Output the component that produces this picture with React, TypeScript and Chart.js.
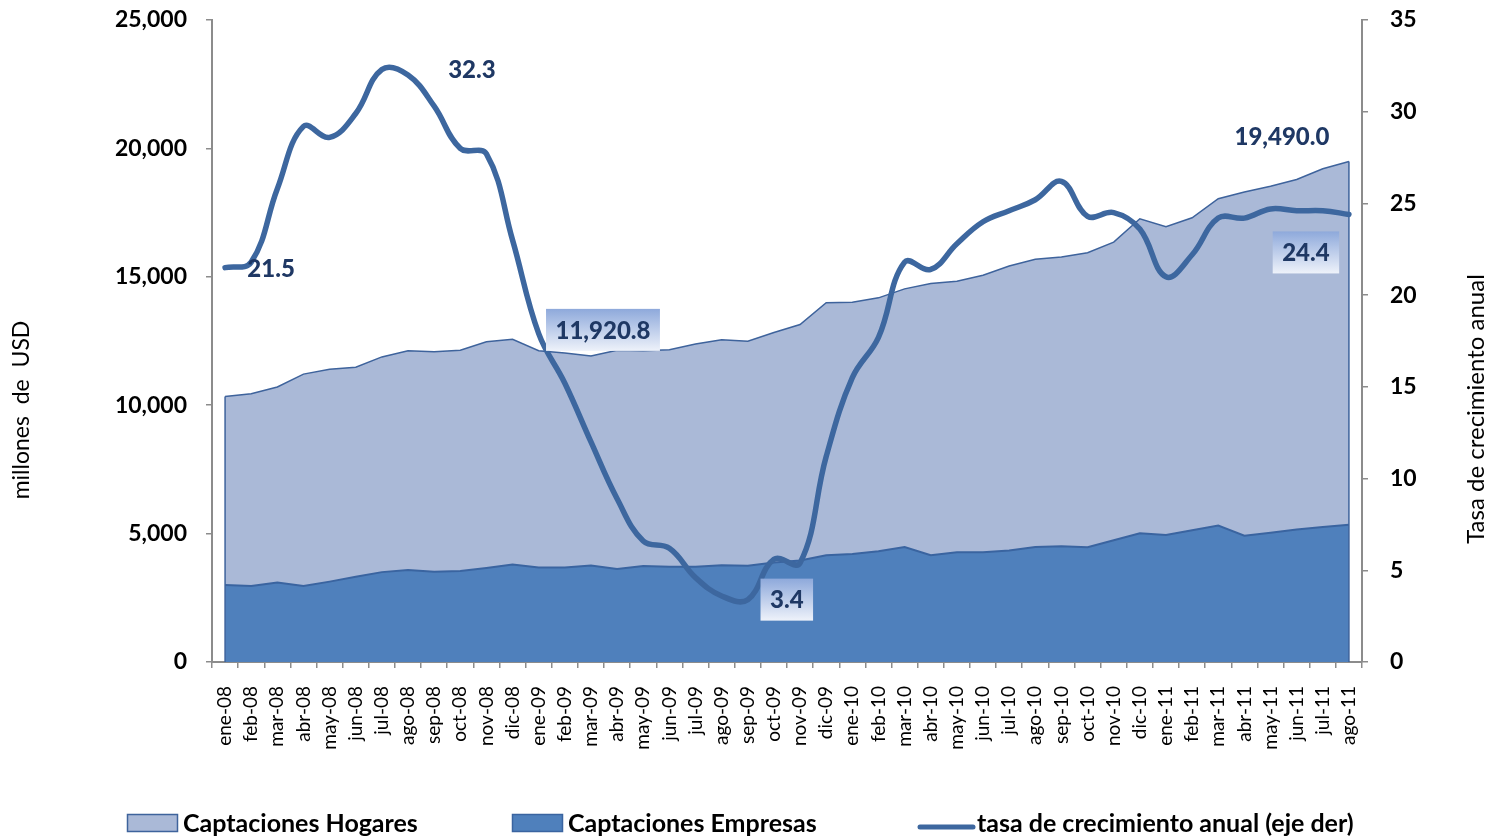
import React, { useEffect, useRef } from 'react';
import { Chart, registerables } from 'chart.js';

Chart.register(...registerables);

const months = [
  'ene-08', 'feb-08', 'mar-08', 'abr-08', 'may-08', 'jun-08', 'jul-08', 'ago-08', 'sep-08', 'oct-08', 'nov-08', 'dic-08',
  'ene-09', 'feb-09', 'mar-09', 'abr-09', 'may-09', 'jun-09', 'jul-09', 'ago-09', 'sep-09', 'oct-09', 'nov-09', 'dic-09',
  'ene-10', 'feb-10', 'mar-10', 'abr-10', 'may-10', 'jun-10', 'jul-10', 'ago-10', 'sep-10', 'oct-10', 'nov-10', 'dic-10',
  'ene-11', 'feb-11', 'mar-11', 'abr-11', 'may-11', 'jun-11', 'jul-11', 'ago-11',
];

// millones de USD
const empresas = [
  3000, 2960, 3100, 2960, 3130, 3320, 3500, 3580, 3510, 3540, 3660, 3800,
  3680, 3680, 3760, 3620, 3740, 3710, 3710, 3770, 3750, 3870, 3950, 4160,
  4210, 4310, 4480, 4160, 4270, 4270, 4340, 4480, 4510, 4470, 4740, 5010,
  4950, 5130, 5310, 4920, 5030, 5160, 5260, 5340,
];

const hogares = [
  7340, 7490, 7610, 8250, 8270, 8160, 8380, 8540, 8570, 8600, 8810, 8770,
  8440, 8350, 8160.8, 8520, 8380, 8450, 8670, 8780, 8740, 8960, 9190, 9830,
  9800, 9870, 10050, 10580, 10560, 10790, 11080, 11200, 11260, 11470, 11610, 12250,
  12000, 12170, 12730, 13380, 13500, 13630, 13950, 14150,
];

// tasa de crecimiento anual (%)
const tasa = [
  21.5, 21.8, 25.8, 29.2, 28.6, 29.9, 32.3, 32.0, 30.3, 28.0, 27.7, 23.0,
  17.9, 15.2, 12.0, 8.9, 6.6, 6.2, 4.6, 3.6, 3.4, 5.6, 5.4, 11.2,
  15.5, 17.7, 21.8, 21.4, 22.8, 24.0, 24.6, 25.2, 26.2, 24.3, 24.5, 23.6,
  21.0, 22.2, 24.2, 24.2, 24.7, 24.6, 24.6, 24.4,
];

const leftTitle = 'millones  de  USD';
const rightTitle = 'Tasa de crecimiento anual';

const HOG_FILL = '#AAB9D7';
const HOG_LINE = '#3E639C';
const EMP_FILL = '#4F80BC';
const EMP_LINE = '#3A64A0';
const LINE = '#3D679F';
const LABEL = '#1F3864';
const FONT = 'Lato, "Open Sans", sans-serif';

const fmtTotal = (v: number) =>
  v.toLocaleString('en-US', { minimumFractionDigits: 1, maximumFractionDigits: 1 });

const zeroPad = (s: any) => {
  s.paddingTop = 0;
  s.paddingBottom = 0;
  s.paddingLeft = 0;
  s.paddingRight = 0;
};

const overlay = {
  id: 'overlay',
  afterDatasetDraw(chart: any, args: any) {
    if (args.index !== 0) return;
    const ctx = chart.ctx;
    const hog = chart.getDatasetMeta(1).data;
    const yb = chart.scales.y.getPixelForValue(0);
    ctx.save();
    ctx.strokeStyle = HOG_LINE;
    ctx.lineWidth = 1.5;
    [0, hog.length - 1].forEach((i) => {
      const p = hog[i];
      ctx.beginPath();
      ctx.moveTo(p.x, p.y);
      ctx.lineTo(p.x, yb);
      ctx.stroke();
    });
    ctx.restore();
  },
  afterDatasetsDraw(chart: any) {
    const ctx = chart.ctx;
    const lineMeta = chart.getDatasetMeta(2).data;
    const totMeta = chart.getDatasetMeta(1).data;
    const n = tasa.length;
    const labels = [
      { p: lineMeta[0], text: tasa[0].toFixed(1), dx: 46, dy: 1, box: false },
      { p: lineMeta[6], text: tasa[6].toFixed(1), dx: 90, dy: 0, box: false },
      { p: totMeta[14], text: fmtTotal(empresas[14] + hogares[14]), dx: 12, dy: -26, box: true },
      { p: lineMeta[20], text: tasa[20].toFixed(1), dx: 39, dy: 0, box: true },
      { p: totMeta[n - 1], text: fmtTotal(empresas[n - 1] + hogares[n - 1]), dx: -67, dy: -25, box: false },
      { p: lineMeta[n - 1], text: tasa[n - 1].toFixed(1), dx: -43, dy: 38, box: true },
    ];
    ctx.save();
    ctx.font = `900 24px ${FONT}`;
    labels.forEach((l) => {
      const cx = l.p.x + l.dx;
      const cy = l.p.y + l.dy;
      const w = ctx.measureText(l.text).width;
      if (l.box) {
        const bw = w + 19;
        const bh = 42;
        const g = ctx.createLinearGradient(0, cy - bh / 2, 0, cy + bh / 2);
        g.addColorStop(0, '#8EA9DB');
        g.addColorStop(1, '#EEF2FA');
        ctx.fillStyle = g;
        ctx.fillRect(cx - bw / 2, cy - bh / 2, bw, bh);
      }
      ctx.fillStyle = LABEL;
      ctx.textAlign = 'center';
      ctx.textBaseline = 'middle';
      ctx.fillText(l.text, cx, cy + 1);
    });
    ctx.restore();
  },
  afterDraw(chart: any) {
    const ctx = chart.ctx;
    ctx.save();
    // axis titles (both read bottom to top)
    ctx.fillStyle = '#000';
    ctx.textAlign = 'center';
    ctx.textBaseline = 'middle';
    ctx.save();
    ctx.font = `23px ${FONT}`;
    ctx.translate(22, 410);
    ctx.rotate(-Math.PI / 2);
    ctx.fillText(leftTitle, 0, 0);
    ctx.restore();
    ctx.save();
    ctx.font = `24px ${FONT}`;
    ctx.translate(1476, 409);
    ctx.rotate(-Math.PI / 2);
    ctx.fillText(rightTitle, 0, 0);
    ctx.restore();

    // legend
    const ds = chart.data.datasets;
    const items = [
      { ds: ds[1], x: 127, kind: 'box' },
      { ds: ds[0], x: 512, kind: 'box' },
      { ds: ds[2], x: 918, kind: 'line' },
    ];
    ctx.font = `bold 25px ${FONT}`;
    ctx.textAlign = 'left';
    ctx.textBaseline = 'alphabetic';
    items.forEach((it) => {
      if (it.kind === 'box') {
        ctx.fillStyle = it.ds.backgroundColor;
        ctx.fillRect(it.x, 814, 51, 18);
        ctx.strokeStyle = it.ds.borderColor;
        ctx.lineWidth = 1.5;
        ctx.strokeRect(it.x + 0.5, 814.5, 50, 17);
        ctx.fillStyle = '#000';
        ctx.fillText(it.ds.label, it.x + 56, 832);
      } else {
        ctx.strokeStyle = it.ds.borderColor;
        ctx.lineWidth = 5;
        ctx.lineCap = 'round';
        ctx.beginPath();
        ctx.moveTo(it.x + 2, 827);
        ctx.lineTo(it.x + 55, 827);
        ctx.stroke();
        ctx.fillStyle = '#000';
        ctx.fillText(it.ds.label, it.x + 59, 832);
      }
    });
    ctx.restore();
  },
};

export default function App() {
  const ref = useRef<HTMLCanvasElement>(null);
  useEffect(() => {
    document.body.style.margin = '0';
    document.body.style.overflow = 'hidden';
    const canvas = ref.current!;
    const axisGrey = '#8C8C8C';
    const chart = new Chart(canvas, {
      type: 'line',
      data: {
        labels: months,
        datasets: [
          {
            label: 'Captaciones Empresas', data: empresas, yAxisID: 'y', stack: 's', fill: 'origin',
            backgroundColor: EMP_FILL, borderColor: EMP_LINE, borderWidth: 2, pointRadius: 0, tension: 0, order: 1,
          },
          {
            label: 'Captaciones Hogares', data: hogares, yAxisID: 'y', stack: 's', fill: '-1',
            backgroundColor: HOG_FILL, borderColor: HOG_LINE, borderWidth: 1.5, pointRadius: 0, tension: 0, order: 2,
          },
          {
            label: 'tasa de crecimiento anual (eje der)', data: tasa, yAxisID: 'y1', fill: false,
            borderColor: LINE, backgroundColor: LINE, borderWidth: 5.5, pointRadius: 0, tension: 0.4,
            borderCapStyle: 'round', borderJoinStyle: 'round', order: 0,
          },
        ],
      } as any,
      options: {
        animation: false,
        responsive: false,
        devicePixelRatio: 1,
        layout: { padding: { top: 20, left: 0, right: 0, bottom: 0 } },
        plugins: { legend: { display: false }, tooltip: { enabled: false } },
        scales: {
          x: {
            offset: true,
            grid: { display: true, drawOnChartArea: false, drawTicks: true, tickLength: 6, offset: true, color: axisGrey, lineWidth: 1.5 },
            border: { display: true, color: axisGrey, width: 2 },
            ticks: { autoSkip: false, maxRotation: 90, minRotation: 90, padding: 18, color: '#000', font: { family: FONT, size: 19 } },
            afterFit: (s: any) => { s.height = 176; zeroPad(s); },
          },
          y: {
            stacked: true, min: 0, max: 25000, position: 'left',
            ticks: {
              stepSize: 5000, padding: 19, color: '#000', font: { family: FONT, size: 23, weight: 'bold' },
              callback: (v: any) => Number(v).toLocaleString('en-US'),
            },
            grid: { drawOnChartArea: false, tickLength: 6, color: axisGrey, lineWidth: 1.5 },
            border: { color: axisGrey, width: 2 },
            afterFit: (s: any) => { s.width = 212; zeroPad(s); },
          },
          y1: {
            stacked: false, min: 0, max: 35, position: 'right',
            ticks: { stepSize: 5, padding: 22, color: '#000', font: { family: FONT, size: 23, weight: 'bold' } },
            grid: { drawOnChartArea: false, tickLength: 6, color: axisGrey, lineWidth: 1.5 },
            border: { color: axisGrey, width: 2 },
            afterFit: (s: any) => { s.width = 131; zeroPad(s); },
          },
        },
      } as any,
      plugins: [overlay],
    });
    return () => chart.destroy();
  }, []);
  return <canvas ref={ref} width={1493} height={838} style={{ display: 'block', width: 1493, height: 838 }} />;
}
